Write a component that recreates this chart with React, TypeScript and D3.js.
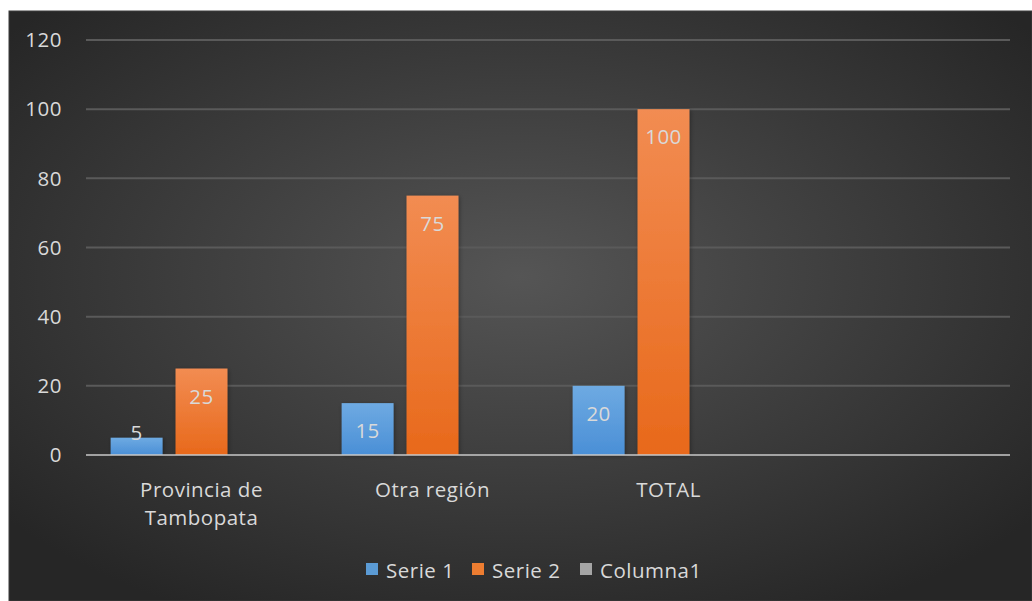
import React from "react";
import * as d3 from "d3";

const categories = ["Provincia de Tambopata", "Otra región", "TOTAL", ""];
const serie1 = [5, 15, 20, null];
const serie2 = [25, 75, 100, null];
const columna1: (number | null)[] = [null, null, null, null];
const yTicks = [0, 20, 40, 60, 80, 100, 120];
const seriesNames = ["Serie 1", "Serie 2", "Columna1"];

const W = 1032;
const H = 601;
const FONT = "'Open Sans', sans-serif";
const TXT = "#d9d9d9";
const FS = 20.5;

export default function App() {
  const x = d3.scaleBand<string>().domain(categories.map((c, i) => String(i))).range([86, 1010]).paddingInner(0).paddingOuter(0);
  const y = d3.scaleLinear().domain([0, 120]).range([455, 40]);
  const sub = d3.scaleBand<string>().domain(["0", "1", "2"]).range([0, x.bandwidth()]).paddingInner(0.2).paddingOuter(0.38);
  const series = [serie1, serie2, columna1];
  const fills = ["url(#gBlue)", "url(#gOrange)", "url(#gGray)"];
  const legendFills = ["#5b9bd5", "#ed7d31", "#a5a5a5"];
  const legendX = [366, 472, 580];

  return (
    <svg width={W} height={H} style={{ position: "absolute", left: 0, top: 0 }} fontFamily={FONT}>
      <defs>
        <radialGradient id="bg" cx="50%" cy="45%" r="65%">
          <stop offset="0%" stopColor="#555555" />
          <stop offset="100%" stopColor="#262626" />
        </radialGradient>
        <linearGradient id="gBlue" x1="0" y1="0" x2="0" y2="1">
          <stop offset="0%" stopColor="#6eaae2" />
          <stop offset="100%" stopColor="#4a8fd6" />
        </linearGradient>
        <linearGradient id="gOrange" x1="0" y1="0" x2="0" y2="1">
          <stop offset="0%" stopColor="#f28c52" />
          <stop offset="100%" stopColor="#e8691b" />
        </linearGradient>
        <linearGradient id="gGray" x1="0" y1="0" x2="0" y2="1">
          <stop offset="0%" stopColor="#b5b5b5" />
          <stop offset="100%" stopColor="#999999" />
        </linearGradient>
        <filter id="shadow" x="-20%" y="-20%" width="140%" height="140%">
          <feDropShadow dx="1" dy="1" stdDeviation="2" floodColor="#000" floodOpacity="0.35" />
        </filter>
      </defs>
      <rect x={0} y={0} width={W} height={H} fill="#ffffff" />
      <rect x={9} y={11} width={W - 9} height={H - 11} fill="url(#bg)" stroke="#3d3d3d" strokeWidth={1} />

      {yTicks.map((t) => (
        <g key={t}>
          {t !== 0 && <line x1={86} x2={1010} y1={y(t)} y2={y(t)} stroke="#5a5a5a" strokeWidth={2} />}
          <text x={62} y={y(t)} dy="0.35em" textAnchor="end" fill={TXT} fontSize={FS} letterSpacing={0.5}>
            {t}
          </text>
        </g>
      ))}

      {categories.map((c, ci) =>
        series.map((s, si) => {
          const v = s[ci];
          if (v == null) return null;
          const bx = (x(String(ci)) as number) + (sub(String(si)) as number);
          return (
            <rect key={`${ci}-${si}`} x={bx} y={y(v)} width={sub.bandwidth()} height={y(0) - y(v)} fill={fills[si]} filter="url(#shadow)" />
          );
        })
      )}

      <line x1={86} x2={1010} y1={y(0)} y2={y(0)} stroke="#c8c8c8" strokeOpacity={0.75} strokeWidth={2} />

      {categories.map((c, ci) =>
        series.map((s, si) => {
          const v = s[ci];
          if (v == null) return null;
          const bx = (x(String(ci)) as number) + (sub(String(si)) as number) + sub.bandwidth() / 2;
          const cy = Math.min(y(v) + 28, y(0) - 22);
          return (
            <text key={`l${ci}-${si}`} x={bx} y={cy} dy="0.35em" textAnchor="middle" fill={TXT} fontSize={FS} letterSpacing={0.5}>
              {v}
            </text>
          );
        })
      )}

      {categories.map((c, ci) => {
        const cx = (x(String(ci)) as number) + x.bandwidth() / 2 + (ci === 2 ? 5 : 0);
        const lines = c === "Provincia de Tambopata" ? ["Provincia de", "Tambopata"] : [c];
        return (
          <text key={`c${ci}`} x={cx} textAnchor="middle" fill={TXT} fontSize={FS} letterSpacing={0.5}>
            {lines.map((l, li) => (
              <tspan key={li} x={cx} y={490 + li * 28} dy="0.35em">
                {l}
              </tspan>
            ))}
          </text>
        );
      })}

      {seriesNames.map((n, i) => (
        <g key={n}>
          <rect x={legendX[i]} y={563} width={12} height={12} fill={legendFills[i]} />
          <text x={legendX[i] + 20} y={571} dy="0.35em" fill={TXT} fontSize={FS} letterSpacing={0.5}>
            {n}
          </text>
        </g>
      ))}
    </svg>
  );
}
